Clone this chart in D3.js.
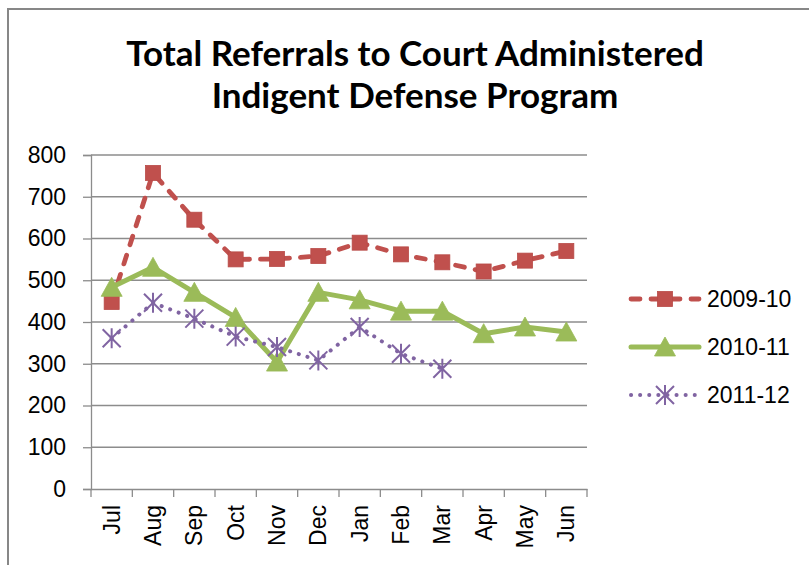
<!DOCTYPE html>
<html><head><meta charset="utf-8">
<script src="https://cdn.jsdelivr.net/npm/d3@7"></script>
<style>html,body{margin:0;padding:0;background:#fff;} svg{display:block;}</style>
</head><body>
<svg id="chart" width="809" height="565"></svg>
<script>
const months = ["Jul","Aug","Sep","Oct","Nov","Dec","Jan","Feb","Mar","Apr","May","Jun"];
const s2009 = [448, 757, 645, 550, 551, 558, 590, 562, 543, 521, 547, 570];
const s2010 = [483, 531, 471, 411, 304, 471, 453, 426, 426, 372, 388, 376];
const s2011 = [361, 446, 408, 365, 340, 308, 388, 324, 288, null, null, null];
const seriesNames = ["2009-10", "2010-11", "2011-12"];
const yTicks = [0, 100, 200, 300, 400, 500, 600, 700, 800];
const titleLines = ["Total Referrals to Court Administered", "Indigent Defense Program"];

const svg = d3.select("#chart");
const gridColor = "#8c8c8c";
const labelFont = "'Liberation Sans', Arial, sans-serif";
const labelSize = 23;

// outer border (top/left visible)
svg.append("path").attr("d", "M8,570 L8,9 L815,9").attr("fill", "none")
  .attr("stroke", "#878787").attr("stroke-width", 2);

const x = d3.scaleBand().domain(months).range([91, 587]).padding(0);
const y = d3.scaleLinear().domain([0, 800]).range([489, 155]);
const cx = m => x(m) + x.bandwidth() / 2;

// title
svg.append("g").selectAll("text").data(titleLines).join("text")
  .attr("x", 415).attr("y", (d, i) => 66 + i * 42)
  .attr("text-anchor", "middle")
  .attr("font-family", "Lato, 'Open Sans', sans-serif").attr("font-weight", "bold")
  .attr("font-size", 35).attr("fill", "#000").text(d => d);

// gridlines
svg.append("g").selectAll("line").data(yTicks.filter(t => t > 0)).join("line")
  .attr("x1", 91).attr("x2", 587).attr("y1", d => y(d)).attr("y2", d => y(d))
  .attr("stroke", gridColor).attr("stroke-width", 1.3);

// y axis
const yAxis = svg.append("g").attr("transform", "translate(91,0)")
  .call(d3.axisLeft(y).tickValues(yTicks).tickSize(8).tickPadding(17));
yAxis.select(".domain").attr("stroke", gridColor).attr("stroke-width", 1.3);
yAxis.selectAll(".tick line").attr("stroke", gridColor).attr("stroke-width", 1.3);
yAxis.selectAll(".tick text").attr("font-family", labelFont).attr("font-size", labelSize).attr("fill", "#000");

// x axis
const xAxis = svg.append("g").attr("transform", "translate(0,489)")
  .call(d3.axisBottom(x).tickSize(0));
xAxis.select(".domain").attr("stroke", gridColor).attr("stroke-width", 1.3);
xAxis.selectAll(".tick text")
  .attr("font-family", labelFont).attr("font-size", labelSize).attr("fill", "#000")
  .attr("text-anchor", "end").attr("dy", "0.35em")
  .attr("transform", "translate(0,16) rotate(-90)").attr("x", 0).attr("y", 0);
// category boundary ticks
const bounds = months.map(m => x(m)).concat([x.range()[1]]);
svg.append("g").selectAll("line").data(bounds).join("line")
  .attr("x1", d => d).attr("x2", d => d).attr("y1", 489).attr("y2", 497)
  .attr("stroke", gridColor).attr("stroke-width", 1.3);

const colors = ["#C0504D", "#9BBB59", "#8064A2"];
const allSeries = [s2009, s2010, s2011];
const lineStyles = [
  {w: 4.8, dash: "9,11"},
  {w: 5, dash: null},
  {w: 4, dash: "0.1,9"}
];

const line = d3.line().defined(d => d.v != null).x(d => cx(d.m)).y(d => y(d.v));

function drawMarker(g, i, px, py) {
  const c = colors[i];
  if (i === 0) {
    g.append("rect").attr("x", px - 7.5).attr("y", py - 7.5).attr("width", 15).attr("height", 15)
      .attr("fill", c).attr("stroke", "#b84a47").attr("stroke-width", 0.8);
  } else if (i === 1) {
    g.append("path").attr("d", `M${px},${py - 10} L${px + 10.5},${py + 9} L${px - 10.5},${py + 9} Z`)
      .attr("fill", c).attr("stroke", c).attr("stroke-width", 0.8);
  } else {
    const r = 9;
    g.append("path").attr("d",
      `M${px - r},${py - r} L${px + r},${py + r} M${px - r},${py + r} L${px + r},${py - r} M${px},${py - r - 1} L${px},${py + r + 1}`)
      .attr("stroke", c).attr("stroke-width", 2).attr("fill", "none");
  }
}

allSeries.forEach((vals, i) => {
  const data = months.map((m, j) => ({m, v: vals[j]}));
  const g = svg.append("g");
  g.append("path").datum(data).attr("d", line)
    .attr("fill", "none").attr("stroke", colors[i]).attr("stroke-width", lineStyles[i].w)
    .attr("stroke-linecap", "round").attr("stroke-linejoin", "round")
    .attr("stroke-dasharray", lineStyles[i].dash);
  data.filter(d => d.v != null).forEach(d => drawMarker(g, i, cx(d.m), y(d.v)));
});

// legend
const legendY = [299, 347, 395];
seriesNames.forEach((name, i) => {
  const g = svg.append("g");
  g.append("line").attr("x1", 631).attr("x2", 699).attr("y1", legendY[i]).attr("y2", legendY[i])
    .attr("stroke", colors[i]).attr("stroke-width", lineStyles[i].w)
    .attr("stroke-linecap", "round").attr("stroke-dasharray", lineStyles[i].dash);
  drawMarker(g, i, 665, legendY[i]);
  g.append("text").attr("x", 707).attr("y", legendY[i]).attr("dy", "0.35em")
    .attr("font-family", labelFont).attr("font-size", labelSize).attr("fill", "#000").text(name);
});
</script>
</body></html>
